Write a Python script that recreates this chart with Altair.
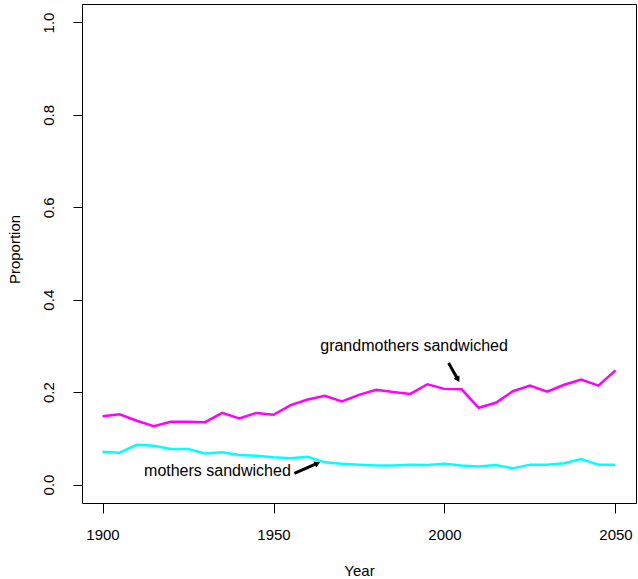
import altair as alt
import pandas as pd

# Proportion of women who are "sandwiched", by year
years = list(range(1900, 2051, 5))
grandmothers = [0.148, 0.152, 0.138, 0.126, 0.136, 0.136, 0.135, 0.155, 0.143, 0.155,
                0.151, 0.172, 0.184, 0.192, 0.180, 0.194, 0.205, 0.200, 0.196, 0.217,
                0.207, 0.206, 0.166, 0.177, 0.202, 0.214, 0.201, 0.216, 0.227, 0.214,
                0.247]
mothers = [0.071, 0.069, 0.086, 0.084, 0.077, 0.077, 0.067, 0.070, 0.064, 0.062,
           0.059, 0.057, 0.060, 0.048, 0.045, 0.043, 0.041, 0.041, 0.043, 0.042,
           0.045, 0.041, 0.039, 0.042, 0.035, 0.043, 0.043, 0.046, 0.055, 0.043,
           0.043]
series_names = ["grandmothers sandwiched", "mothers sandwiched"]
series_colors = ["#FF00FF", "#00FFFF"]

# Text labels and their pointing arrows
label_text = ["grandmothers sandwiched", "mothers sandwiched"]
label_year = [1991.1, 1933.6]
label_value = [0.299, 0.030]
arrow_year0 = [2001.2, 1956.1]
arrow_value0 = [0.263, 0.024]
arrow_year1 = [2003.8, 1962.6]
arrow_value1 = [0.229, 0.045]
arrow_angle = [151, 66]

x_ticks = [1900, 1950, 2000, 2050]
y_ticks = [0.0, 0.2, 0.4, 0.6, 0.8, 1.0]

FONT = "Liberation Sans"

lines_df = pd.DataFrame({
    "Year": years * 2,
    "Proportion": grandmothers + mothers,
    "series": [series_names[0]] * len(years) + [series_names[1]] * len(years),
})
labels_df = pd.DataFrame({"text": label_text, "Year": label_year, "Proportion": label_value})
arrows_df = pd.DataFrame({
    "x0": arrow_year0, "y0": arrow_value0,
    "x1": arrow_year1, "y1": arrow_value1,
    "angle": arrow_angle,
})

x_scale = alt.Scale(domain=[1894, 2056], nice=False, zero=False)
y_scale = alt.Scale(domain=[-0.04, 1.04], nice=False, zero=False)

x_axis = alt.Axis(
    values=x_ticks, format="d", grid=False, domain=False,
    tickSize=10, tickColor="black", tickWidth=1,
    labelFont=FONT, labelFontSize=15, labelColor="black",
    labelAngle=0, labelAlign="center", labelBaseline="middle", labelPadding=21,
    title="Year", titleFont=FONT, titleFontSize=15, titleFontWeight="normal",
    titleColor="black", titleBaseline="middle", titleY=67,
)
y_axis = alt.Axis(
    values=y_ticks, format=".1f", grid=False, domain=False,
    tickSize=9, tickColor="black", tickWidth=1,
    labelFont=FONT, labelFontSize=15, labelColor="black",
    labelAngle=-90, labelAlign="center", labelBaseline="middle", labelPadding=25,
    title="Proportion", titleFont=FONT, titleFontSize=15, titleFontWeight="normal",
    titleColor="black", titleAngle=-90, titleAlign="center", titleBaseline="middle",
    titleX=-68, titleY=245,
)

lines = alt.Chart(lines_df).mark_line(strokeWidth=2.5).encode(
    x=alt.X("Year:Q", scale=x_scale, axis=x_axis),
    y=alt.Y("Proportion:Q", scale=y_scale, axis=y_axis),
    color=alt.Color("series:N", scale=alt.Scale(domain=series_names, range=series_colors),
                    legend=None),
)

labels = alt.Chart(labels_df).mark_text(font=FONT, fontSize=16, color="black",
                                        align="center", baseline="middle").encode(
    x=alt.X("Year:Q", scale=x_scale),
    y=alt.Y("Proportion:Q", scale=y_scale),
    text="text:N",
)

shafts = alt.Chart(arrows_df).mark_rule(strokeWidth=3, color="black").encode(
    x=alt.X("x0:Q", scale=x_scale),
    y=alt.Y("y0:Q", scale=y_scale),
    x2="x1:Q",
    y2="y1:Q",
)

heads = alt.Chart(arrows_df).mark_point(shape="triangle", filled=True, size=45,
                                        color="black", opacity=1).encode(
    x=alt.X("x1:Q", scale=x_scale),
    y=alt.Y("y1:Q", scale=y_scale),
    angle=alt.Angle("angle:Q", scale=None),
)

chart = alt.layer(lines, shafts, heads, labels).properties(
    width=554,
    height=499,
    autosize=alt.AutoSizeParams(type="none"),
    padding={"left": 82, "top": 4, "right": 2, "bottom": 76},
    background="white",
).configure_view(stroke="black", strokeWidth=1)

chart.save("out.html", embed_options={"renderer": "svg", "actions": False})
